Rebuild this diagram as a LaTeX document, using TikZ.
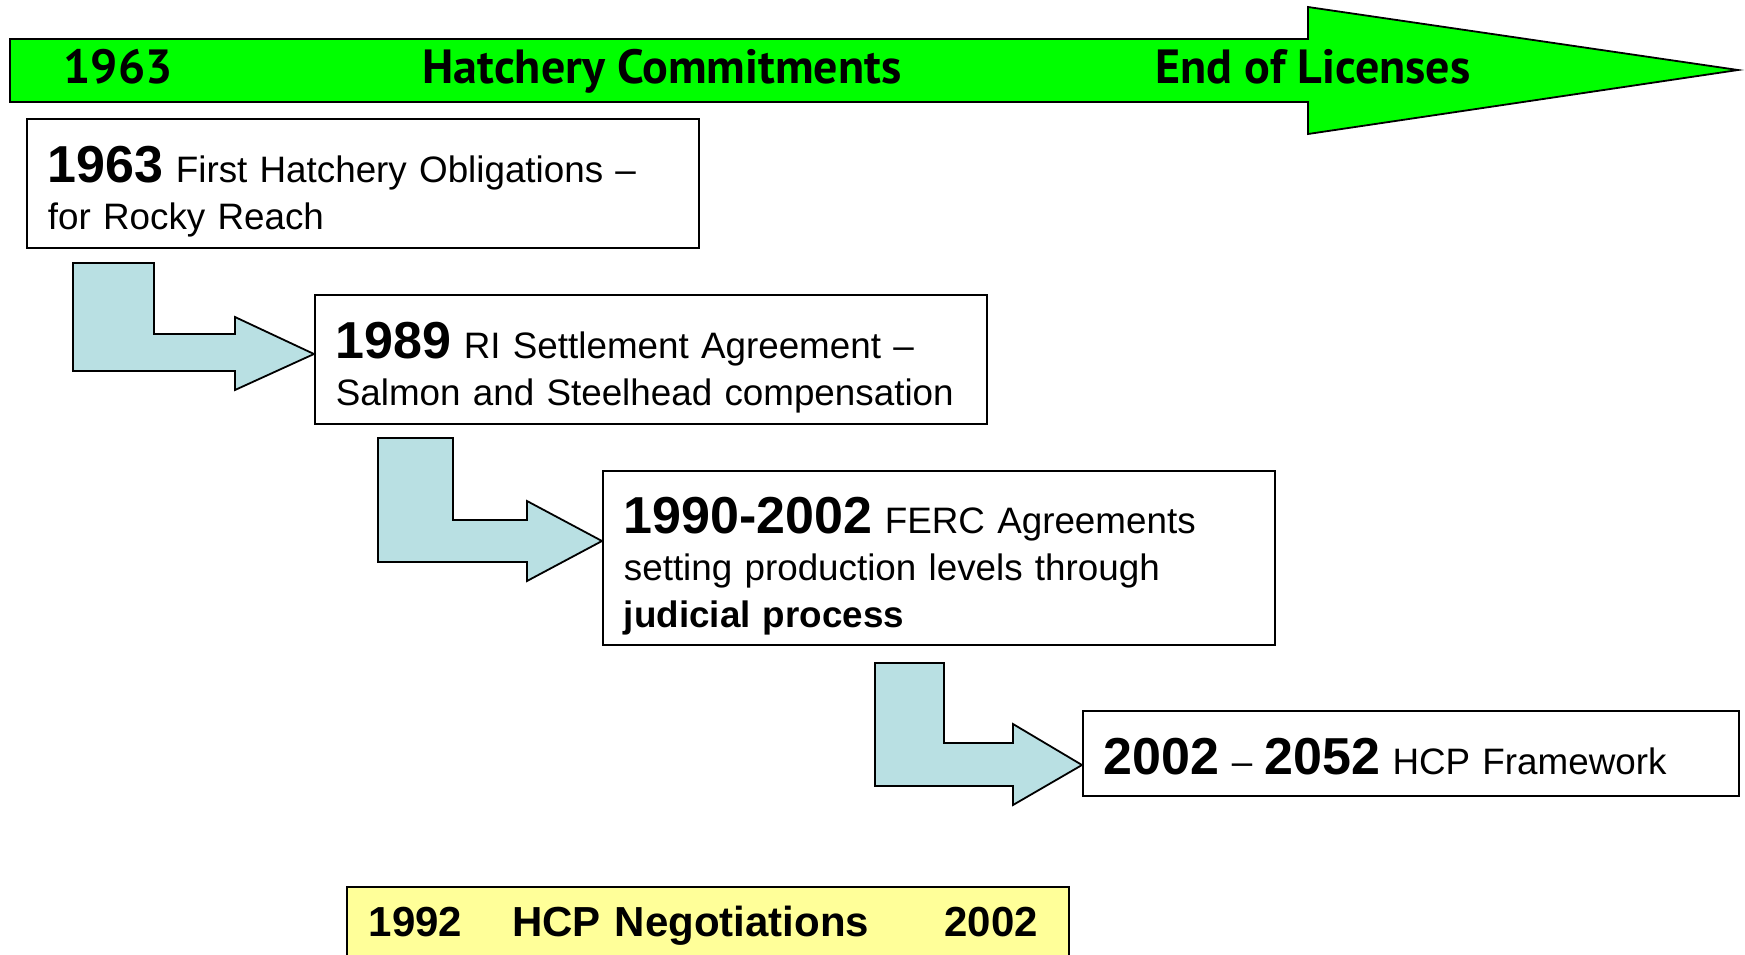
\documentclass[tikz,border=0pt]{standalone}
\usepackage{fontspec}
\setmainfont{Liberation Sans}
\newfontfamily\barfont{PT Sans}
\newcommand\yearlabel[1]{{\fontsize{26}{23.5}\selectfont\bfseries #1}}
\newcommand\topgap[1]{\rule{0pt}{#1}}
\definecolor{bargreen}{RGB}{0,255,0}
\definecolor{bentblue}{RGB}{185,224,227}
\definecolor{negyellow}{RGB}{255,255,153}
\begin{document}
\begin{tikzpicture}[x=0.5pt, y=-0.5pt,
  box/.style={draw, line width=0.9pt, rectangle, anchor=north west, inner xsep=10.5pt, inner ysep=0pt, align=left, font=\fontsize{18.4}{23.5}\selectfont},
  bent/.style={draw, line width=0.9pt, fill=bentblue, line join=miter},
  bartext/.style={anchor=base, font=\barfont\bfseries\fontsize{24}{28}\selectfont}]
\useasboundingbox (0,0) rectangle (1745,954);
\clip (0,0) rectangle (1745,954);
% timeline arrow
\draw[line width=0.9pt, fill=bargreen] (10,39) -- (1308,39) -- (1308,7) -- (1738,70) -- (1308,134) -- (1308,102) -- (10,102) -- cycle;
\node[bartext] (start) at (118,83) {1963};
\node[bartext] (hatch) at (662,83) {Hatchery Commitments};
\node[bartext] (licend) at (1313,83) {End of Licenses};
% steps
\node[box, minimum width=336pt, minimum height=64.5pt, text width=315pt] (b1963) at (26,118) {\topgap{26.5pt}\yearlabel{1963} First Hatchery Obligations --\\ for Rocky Reach};
\node[box, minimum width=336pt, minimum height=64.5pt, text width=315pt] (b1989) at (314,294) {\topgap{26.5pt}\yearlabel{1989} RI Settlement Agreement --\\ Salmon and Steelhead compensation};
\node[box, minimum width=336pt, minimum height=87pt, text width=315pt] (b1990) at (602,470) {\topgap{26.5pt}\yearlabel{1990-2002} FERC Agreements\\ setting production levels through\\ \textbf{judicial process}};
\node[box, minimum width=328pt, minimum height=42.5pt, text width=307pt] (b2002) at (1082,710) {\topgap{21pt}\yearlabel{2002} -- \yearlabel{2052} HCP Framework};
\coordinate (tip1) at (314,354);
\coordinate (tip2) at (602,541);
\coordinate (tip3) at (1082,765);
\draw[bent] (73,263) -- (154,263) -- (154,334) -- (235,334) -- (235,317) -- (tip1) -- (235,390) -- (235,371) -- (73,371) -- cycle;
\draw[bent] (378,438) -- (453,438) -- (453,520) -- (527,520) -- (527,501) -- (tip2) -- (527,581) -- (527,562) -- (378,562) -- cycle;
\draw[bent] (875,663) -- (944,663) -- (944,743) -- (1013,743) -- (1013,724) -- (tip3) -- (1013,805) -- (1013,786) -- (875,786) -- cycle;
% negotiations
\node[box, fill=negyellow, minimum width=360pt, minimum height=38pt, text width=339pt, inner xsep=11pt, font=\bfseries\fontsize{21}{24}\selectfont] (hcpneg) at (346,886) {\topgap{16.5pt}1992\hspace{25pt}HCP Negotiations\hspace{37.5pt}2002};
\end{tikzpicture}
\end{document}
